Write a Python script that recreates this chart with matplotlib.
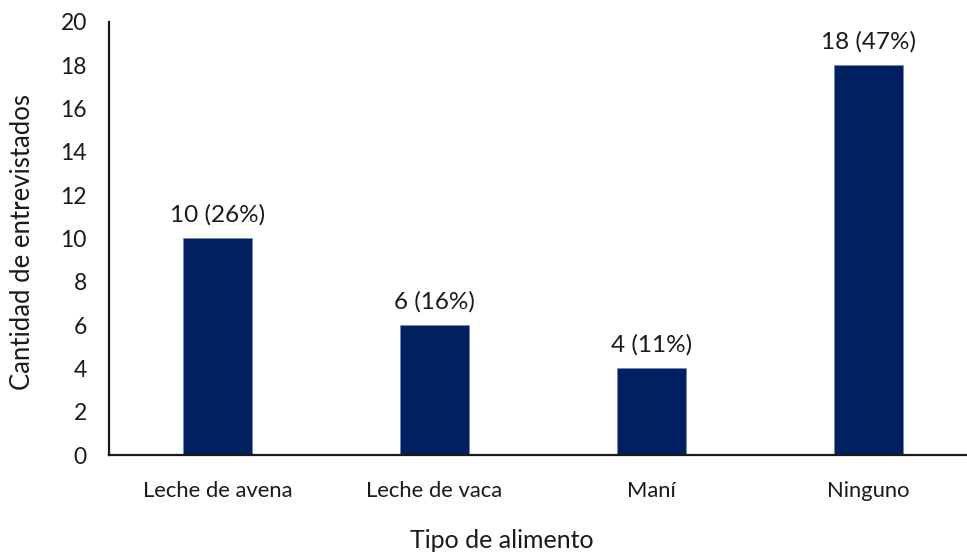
import matplotlib.pyplot as plt
import numpy as np

# Data
categorias = ["Leche de avena", "Leche de vaca", "Maní", "Ninguno"]
entrevistados = [10, 6, 4, 18]
porcentajes = [26, 16, 11, 47]

plt.rcParams['font.family'] = ['Lato', 'DejaVu Sans']

fig = plt.figure(figsize=(9.67, 5.54), dpi=100)
ax = fig.add_axes([0.1127, 0.1787, 0.8873, 0.7816])

x = np.arange(len(categorias))
bars = ax.bar(x, entrevistados, width=0.32, color="#002060", edgecolor="#6f86b5", linewidth=0.4)

for xi, n, p in zip(x, entrevistados, porcentajes):
    ax.text(xi, n + 0.6, f"{n} ({p}%)", ha="center", va="bottom", fontsize=17.5, color="#1a1a1a")

ax.set_xlim(-0.5, 3.454)
ax.set_ylim(0, 20)
ax.set_yticks(range(0, 21, 2))
ax.set_xticks(x)
ax.set_xticklabels(categorias)
ax.tick_params(axis="both", length=0, labelsize=15.8, colors="#1a1a1a")
ax.tick_params(axis="y", labelsize=16.5, pad=16)
ax.tick_params(axis="x", pad=19)

for s in ["top", "right"]:
    ax.spines[s].set_visible(False)
for s in ["left", "bottom"]:
    ax.spines[s].set_linewidth(1.6)
    ax.spines[s].set_color("#1a1a1a")

# x label sits near the centre of the figure, not of the axes
fig.text(502 / 967, 1 - 541 / 554, "Tipo de alimento", fontsize=18,
         ha="center", va="center", color="#1a1a1a")
fig.text(23 / 967, 1 - 242 / 554, "Cantidad de entrevistados", fontsize=18.5,
         rotation=90, ha="center", va="center", color="#1a1a1a")

fig.savefig("out.png", dpi=100)
